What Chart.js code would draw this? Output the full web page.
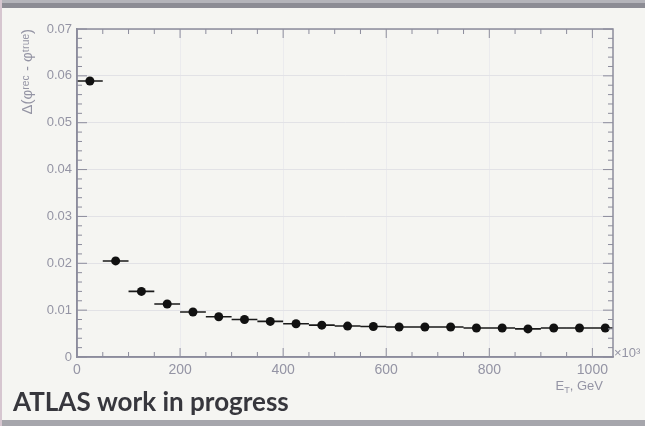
<!DOCTYPE html>
<html>
<head>
<meta charset="utf-8">
<script src="https://cdn.jsdelivr.net/npm/chart.js@4/dist/chart.umd.min.js"></script>
<style>
  html, body { margin: 0; padding: 0; background: #f5f5f2; }
  #wrap { width: 645px; height: 426px; position: relative; }
</style>
</head>
<body>
<div id="wrap"><canvas id="c" width="645" height="426"></canvas></div>
<script>
// Transverse-energy bin centres (GeV) and the resolution measured in each bin
const energyBins = [25, 75, 125, 175, 225, 275, 325, 375, 425, 475, 525,
                    575, 625, 675, 725, 775, 825, 875, 925, 975, 1025];
const dphiValues = [0.0589, 0.0205, 0.0140, 0.0113, 0.0096, 0.0086, 0.0080,
                    0.0076, 0.0071, 0.0068, 0.0066, 0.0065, 0.0064, 0.0064,
                    0.0064, 0.0062, 0.0062, 0.0060, 0.0062, 0.0062, 0.0062];
const dphiErrors = [0.0004, 0.0002, 0.00015, 0.0001, 0.0001, 0.0001, 0.0001,
                    0.0001, 0.0001, 0.0001, 0.0001, 0.0001, 0.0001, 0.0001,
                    0.0001, 0.0001, 0.0001, 0.0001, 0.0001, 0.0001, 0.0001];
const binHalfWidth = 25;

const xTickLabels = [0, 200, 400, 600, 800, 1000];
const yTickLabels = [0, 0.01, 0.02, 0.03, 0.04, 0.05, 0.06, 0.07];
const xMinorStep = 50;
const yMinorStep = 0.002;

const axisGray = '#8c8c9c';
const labelGray = '#9494a4';
const labelFont = '"Liberation Sans", Arial, sans-serif';

// Page furniture: slide background, top bar, bottom strip, captions
const framePlugin = {
  id: 'frame',
  beforeDraw(chart) {
    const ctx = chart.ctx;
    ctx.save();
    ctx.fillStyle = '#f5f5f2';
    ctx.fillRect(0, 0, chart.width, chart.height);
    ctx.fillStyle = '#b4b4ba';
    ctx.fillRect(0, 0, chart.width, 3);
    ctx.fillStyle = '#8c8c94';
    ctx.fillRect(0, 3, chart.width, 5);
    ctx.fillStyle = '#a6a6ac';
    ctx.fillRect(0, 420, chart.width, 6);
    ctx.fillStyle = '#d6c6d0';
    ctx.fillRect(0, 0, 2, chart.height);
    ctx.restore();
  },
  afterDraw(chart) {
    const ctx = chart.ctx;
    const a = chart.chartArea;
    ctx.save();
    // frame on the top and right
    ctx.strokeStyle = axisGray;
    ctx.lineWidth = 1.5;
    ctx.strokeRect(a.left, a.top, a.right - a.left, a.bottom - a.top);

    // inward ticks on all four sides
    const xs = chart.scales.x, ys = chart.scales.y;
    ctx.lineWidth = 1;
    ctx.beginPath();
    for (let v = xs.min; v <= xs.max + 1e-9; v += xMinorStep) {
      const px = xs.getPixelForValue(v);
      const major = xTickLabels.includes(Math.round(v));
      const len = major ? 9 : 5;
      ctx.moveTo(px, a.bottom); ctx.lineTo(px, a.bottom - len);
      ctx.moveTo(px, a.top); ctx.lineTo(px, a.top + len);
    }
    for (let v = ys.min; v <= ys.max + 1e-9; v += yMinorStep) {
      const py = ys.getPixelForValue(v);
      const major = Math.abs(v / 0.01 - Math.round(v / 0.01)) < 1e-6;
      const len = major ? 10 : 5;
      ctx.moveTo(a.left, py); ctx.lineTo(a.left + len, py);
      ctx.moveTo(a.right, py); ctx.lineTo(a.right - len, py);
    }
    ctx.stroke();

    // axis titles
    ctx.fillStyle = labelGray;
    ctx.font = '15px ' + labelFont;
    ctx.save();
    ctx.translate(28, a.top);
    ctx.rotate(-Math.PI / 2);
    ctx.textAlign = 'right';
    ctx.textBaseline = 'middle';
    ctx.fillText('\u0394(\u03C6\u02B3\u1D49\u1D9C - \u03C6\u1D57\u02B3\u1D58\u1D49)', 0, 0);
    ctx.restore();

    ctx.textBaseline = 'alphabetic';
    ctx.textAlign = 'left';
    ctx.font = '13px ' + labelFont;
    ctx.fillText('\u00D710\u00B3', a.right + 1, a.bottom);

    // E_T, GeV
    ctx.font = '13px ' + labelFont;
    const tail = ', GeV';
    const wTail = ctx.measureText(tail).width;
    const wE = ctx.measureText('E').width;
    ctx.font = '9px ' + labelFont;
    const wT = ctx.measureText('T').width;
    const x0 = a.right - 10 - wTail - wT - wE;
    const base = 390;
    ctx.font = '13px ' + labelFont;
    ctx.fillText('E', x0, base);
    ctx.font = '9px ' + labelFont;
    ctx.fillText('T', x0 + wE, base + 3);
    ctx.font = '13px ' + labelFont;
    ctx.fillText(tail, x0 + wE + wT, base);

    // caption
    ctx.fillStyle = '#37373d';
    ctx.font = 'bold 26px Lato, "Open Sans", sans-serif';
    ctx.fillText('ATLAS work in progress', 13, 411);
    ctx.restore();
  }
};

// Bin-width and statistical error bars drawn through the scales
const errorBarPlugin = {
  id: 'errorBars',
  beforeDatasetsDraw(chart) {
    const ctx = chart.ctx;
    const a = chart.chartArea;
    const xs = chart.scales.x, ys = chart.scales.y;
    ctx.save();
    ctx.beginPath();
    ctx.rect(a.left, a.top, a.right - a.left, a.bottom - a.top);
    ctx.clip();
    ctx.strokeStyle = '#1a1a1a';
    ctx.lineWidth = 1.6;
    ctx.beginPath();
    energyBins.forEach((e, i) => {
      const y = ys.getPixelForValue(dphiValues[i]);
      ctx.moveTo(xs.getPixelForValue(e - binHalfWidth), y);
      ctx.lineTo(xs.getPixelForValue(e + binHalfWidth), y);
      const px = xs.getPixelForValue(e);
      ctx.moveTo(px, ys.getPixelForValue(dphiValues[i] - dphiErrors[i]));
      ctx.lineTo(px, ys.getPixelForValue(dphiValues[i] + dphiErrors[i]));
    });
    ctx.stroke();
    ctx.restore();
  }
};

new Chart(document.getElementById('c'), {
  type: 'scatter',
  data: {
    datasets: [{
      data: energyBins.map((e, i) => ({ x: e, y: dphiValues[i] })),
      pointStyle: 'circle',
      pointRadius: 4.5,
      backgroundColor: '#111111',
      borderColor: '#111111',
      borderWidth: 0,
      showLine: false
    }]
  },
  options: {
    responsive: false,
    animation: false,
    events: [],
    layout: { padding: { left: 0, right: 32, top: 29, bottom: 0 } },
    plugins: { legend: { display: false }, tooltip: { enabled: false } },
    scales: {
      x: {
        type: 'linear',
        min: 0,
        max: 1040,
        afterBuildTicks(scale) { scale.ticks = xTickLabels.map(v => ({ value: v })); },
        afterFit(scale) { scale.height = 69; },
        ticks: {
          color: labelGray,
          font: { family: labelFont, size: 14 },
          padding: 5,
          maxRotation: 0,
          callback: v => String(v)
        },
        grid: { color: '#ebebee', lineWidth: 1, drawTicks: false },
        border: { display: true, color: axisGray, width: 1.5 }
      },
      y: {
        type: 'linear',
        min: 0,
        max: 0.07,
        afterBuildTicks(scale) { scale.ticks = yTickLabels.map(v => ({ value: v })); },
        afterFit(scale) { scale.width = 77; },
        ticks: {
          color: labelGray,
          font: { family: labelFont, size: 13 },
          padding: 5,
          callback: v => (v === 0 ? '0' : v.toFixed(2))
        },
        grid: { color: '#e2e2e6', lineWidth: 1, drawTicks: false },
        border: { display: true, color: axisGray, width: 1.5 }
      }
    }
  },
  plugins: [framePlugin, errorBarPlugin]
});
</script>
</body>
</html>
